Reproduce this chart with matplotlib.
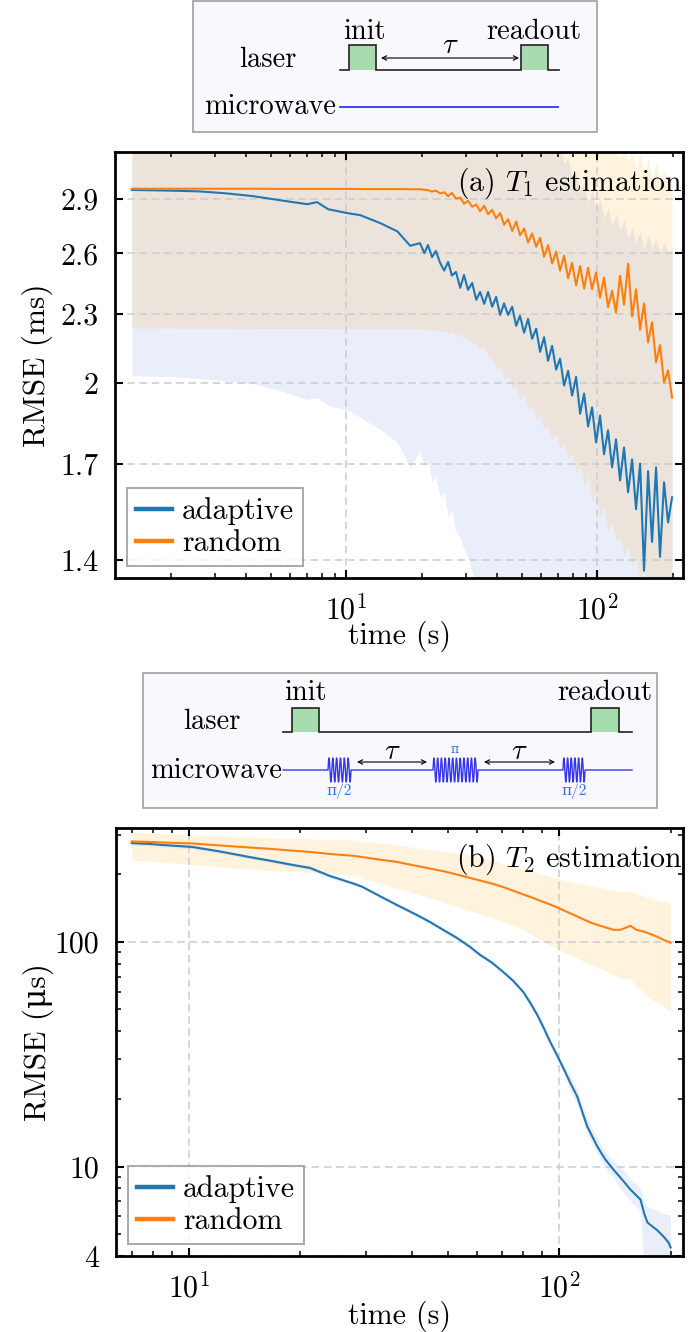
import numpy as np
import matplotlib
matplotlib.use("Agg")
import matplotlib.pyplot as plt
from matplotlib.patches import Rectangle
from matplotlib.ticker import FixedLocator, NullLocator, FixedFormatter, LogLocator

FS = 21.5
plt.rcParams.update({
    'font.family': ['cmr10', 'DejaVu Serif'],
    'mathtext.fontset': 'cm',
    'axes.unicode_minus': False,
    'axes.formatter.use_mathtext': True,
    'font.size': FS,
})

# ---------------- data: panel (a) T1 ----------------
t_a = [1.4, 1.65, 2.08, 2.62, 3.30, 4.26, 5.46, 7.0, 7.66, 8.48, 10.2, 11.4, 13.7, 16.0, 18.0,
       19.7, 20.5, 21.2, 22.0, 22.8, 23.7, 24.6, 25.5, 26.4, 27.4, 28.5, 29.5, 30.6, 31.8, 33.0,
       34.2, 35.5, 36.8, 38.2, 39.6, 41.1, 42.6, 44.2, 45.9, 47.6, 49.3, 51.2, 53.1, 55.1, 57.2,
       59.3, 61.5, 63.8, 66.2, 68.7, 71.2, 73.9, 76.7, 79.5, 82.5, 85.6, 88.8, 92.1, 95.5, 99.1,
       102.8, 106.6, 110.6, 114.8, 119.0, 123.5, 128.1, 132.9, 137.9, 143.0, 148.4, 153.9, 159.7,
       165.6, 171.8, 178.2, 184.9, 191.8, 199.0]

adaptive_a = [2.955, 2.953, 2.950, 2.946, 2.935, 2.918, 2.894, 2.871, 2.883, 2.842, 2.819, 2.808,
              2.763, 2.718, 2.640,
              2.654, 2.601, 2.644, 2.580, 2.612, 2.550, 2.511, 2.555, 2.486, 2.504,
              2.425, 2.489, 2.415, 2.449, 2.367, 2.405, 2.348, 2.405, 2.334, 2.381,
              2.296, 2.350, 2.296, 2.334, 2.246, 2.292, 2.215, 2.278, 2.188, 2.233,
              2.131, 2.195, 2.093, 2.157, 2.056, 2.102, 1.991, 2.051, 1.951, 2.026,
              1.881, 1.959, 1.833, 1.905, 1.775, 1.874, 1.733, 1.819, 1.688, 1.786,
              1.644, 1.757, 1.605, 1.715, 1.551, 1.701, 1.370, 1.675, 1.452, 1.688,
              1.409, 1.638, 1.510, 1.589]
adaptive_a_lo = [2.031, 2.029, 2.027, 2.019, 2.010, 1.998, 1.971, 1.935, 1.943, 1.912, 1.893, 1.866,
                 1.822, 1.775, 1.688,
                 1.747, 1.688, 1.715, 1.638, 1.661, 1.589, 1.605, 1.526, 1.551, 1.482, 1.466, 1.431,
                 1.409, 1.367,
                 1.32, 1.30, 1.27, 1.25, 1.22, 1.20, 1.18, 1.15, 1.13, 1.10,
                 1.08, 1.06, 1.04, 1.02, 1.00, 0.98, 0.96, 0.95, 0.93, 0.92,
                 0.90, 0.89, 0.88, 0.86, 0.85, 0.84, 0.83, 0.82, 0.81, 0.80,
                 0.79, 0.78, 0.77, 0.76, 0.75, 0.74, 0.73, 0.72, 0.71, 0.70,
                 0.69, 0.68, 0.67, 0.66, 0.65, 0.64, 0.63, 0.62, 0.61, 0.60]
adaptive_a_hi = [3.90, 3.90, 3.89, 3.88, 3.87, 3.85, 3.83, 3.80, 3.81, 3.77, 3.74, 3.72, 3.66, 3.60, 3.55,
                 3.56, 3.52, 3.54, 3.49, 3.51, 3.47, 3.44, 3.46, 3.42, 3.43,
                 3.40, 3.41, 3.38, 3.39, 3.36, 3.37, 3.35, 3.36, 3.34, 3.35,
                 3.33, 3.34, 3.32, 3.33, 3.31, 3.32, 3.30, 3.31, 3.29, 3.30,
                 3.28, 3.29, 3.27, 3.26, 3.25,
                 3.22, 3.12, 3.15, 3.02, 3.06, 2.95, 3.00, 2.88, 2.95, 2.84,
                 2.90, 2.79, 2.85, 2.75, 2.82, 2.72, 2.78, 2.68, 2.74, 2.65,
                 2.72, 2.62, 2.70, 2.63, 2.68, 2.60, 2.66, 2.61, 2.62]

random_a = [2.962, 2.962, 2.962, 2.962, 2.962, 2.962, 2.961, 2.961, 2.961, 2.961, 2.961, 2.960,
            2.960, 2.960, 2.959,
            2.959, 2.956, 2.953, 2.945, 2.951, 2.934, 2.941, 2.918, 2.937, 2.903,
            2.909, 2.874, 2.891, 2.856, 2.869, 2.831, 2.862, 2.814, 2.838, 2.790,
            2.820, 2.755, 2.785, 2.720, 2.772, 2.696, 2.734, 2.657, 2.706, 2.635,
            2.683, 2.582, 2.643, 2.547, 2.609, 2.511, 2.588, 2.472, 2.550, 2.437,
            2.534, 2.422, 2.525, 2.419, 2.501, 2.377, 2.476, 2.332, 2.410, 2.306,
            2.484, 2.344, 2.546, 2.288, 2.418, 2.228, 2.350, 2.172, 2.262, 2.087,
            2.160, 2.002, 2.053, 1.943]
random_a_lo = [2.236, 2.236, 2.235, 2.235, 2.235, 2.234, 2.234, 2.234, 2.234, 2.234, 2.233, 2.233,
               2.233, 2.233, 2.233,
               2.233, 2.228, 2.233, 2.224, 2.228, 2.220, 2.224, 2.210, 2.220, 2.202,
               2.210, 2.193, 2.184, 2.171, 2.166, 2.144, 2.149, 2.114, 2.106, 2.058,
               2.066, 2.015, 2.031, 1.975, 1.990, 1.935, 1.958, 1.897, 1.912, 1.859,
               1.874, 1.822, 1.837, 1.786, 1.808, 1.757, 1.775, 1.715, 1.740, 1.671,
               1.695, 1.621, 1.661, 1.573, 1.605, 1.526, 1.564, 1.482, 1.510, 1.452,
               1.466, 1.409, 1.443, 1.381, 1.406, 1.353, 1.367,
               1.30, 1.32, 1.28, 1.30, 1.26, 1.28, 1.25]
random_a_hi = [3.70, 3.70, 3.70, 3.70, 3.70, 3.70, 3.70, 3.69, 3.69, 3.69, 3.69, 3.69, 3.68, 3.68, 3.68,
               3.68, 3.67, 3.68, 3.66, 3.67, 3.65, 3.66, 3.64, 3.65, 3.63,
               3.64, 3.62, 3.63, 3.61, 3.62, 3.60, 3.61, 3.59, 3.60, 3.58,
               3.59, 3.57, 3.58, 3.56, 3.57, 3.55, 3.56, 3.54, 3.55, 3.53,
               3.54, 3.52, 3.53, 3.51, 3.52, 3.50, 3.51, 3.49, 3.50, 3.48,
               3.49, 3.46, 3.47, 3.44, 3.42,
               3.30, 3.22, 3.32, 3.18, 3.28, 3.15, 3.26, 3.12, 3.22, 3.08,
               3.20, 3.05, 3.15, 3.02, 3.12, 3.00, 3.08, 2.98, 3.02]

yticks_a = [1.4, 1.7, 2.0, 2.3, 2.6, 2.9]
yticklabels_a = ['1.4', '1.7', '2', '2.3', '2.6', '2.9']

# ---------------- data: panel (b) T2 ----------------
t_b = [7.0, 7.79, 8.83, 10.2, 12.1, 14.5, 16.7, 18.7, 21.2, 24.0,
       28.0, 29.4, 32.7, 36.4, 40.7, 44.7, 49.1, 52.9, 57.4, 61.1,
       65.9, 70.5, 75.1, 79.9, 83.5, 87.2, 90.5, 94.5, 98.2, 102.5,
       107.1, 111.9, 115.4, 119.1, 122.9, 126.8, 133.3, 140.1, 146.3, 155.8,
       161.7, 165.8, 170.0, 173.2, 178.6, 184.4, 191.3, 197.4, 200.0]
adaptive_b = [275.0, 272.6, 268.5, 264.4, 252.5, 238.7, 229.1, 221.1, 213.3, 196.5,
              181.0, 175.6, 160.1, 146.0, 133.2, 122.7, 111.9, 104.2, 95.0, 87.56,
              80.66, 73.56, 67.08, 59.95, 53.57, 47.37, 41.90, 35.94, 31.78, 27.54,
              23.61, 20.47, 17.55, 15.06, 13.59, 12.27, 10.74, 9.70, 8.935, 7.90,
              7.43, 7.135, 6.116, 5.638, 5.412, 5.194, 4.885, 4.596, 4.365]
adaptive_b_hi = [280.5, 278.1, 273.9, 269.7, 257.6, 243.5, 233.7, 225.5, 217.6, 200.4,
                 184.6, 179.1, 163.3, 148.9, 135.9, 125.2, 114.1, 106.3, 96.9, 89.3,
                 82.3, 75.0, 68.4, 61.1, 55.7, 49.3, 43.6, 37.4, 33.1, 28.6,
                 25.5, 22.1, 19.0, 16.3, 14.7, 13.3, 11.6, 10.5, 10.0, 8.85,
                 8.32, 7.99, 6.9, 6.64, 6.5, 6.35, 6.15, 6.12, 6.10]
adaptive_b_lo = [269.6, 267.3, 263.2, 259.2, 247.5, 234.0, 224.6, 216.8, 209.1, 192.6,
                 177.5, 172.2, 157.0, 143.1, 130.6, 120.3, 109.7, 102.2, 93.1, 85.8,
                 79.1, 72.1, 65.8, 58.8, 51.5, 45.5, 40.3, 34.6, 30.6, 26.5,
                 21.9, 19.0, 16.3, 13.9, 12.6, 11.4, 9.94, 8.98, 7.98, 7.05,
                 6.63, 6.37, 3.0, 2.9, 2.8, 2.7, 2.6, 2.5, 2.4]
random_b = [279.7, 278.3, 276.0, 274.0, 268.5, 263.0, 259.0, 255.1, 251.2, 246.0,
            241.1, 238.2, 232.2, 226.8, 218.6, 212.0, 205.5, 199.3, 192.5, 187.5,
            181.6, 175.3, 168.9, 162.6, 158.5, 154.2, 150.6, 146.6, 143.0, 138.3,
            134.0, 129.7, 126.6, 123.7, 121.0, 119.0, 116.0, 113.1, 113.1, 117.8,
            113.1, 111.9, 110.8, 109.6, 107.4, 105.2, 102.1, 100.0, 99.0]
random_b_hi = [308.2, 305.1, 302.0, 298.9, 295.9, 292.9, 290.0, 288.4, 286.9, 285.4,
               284.1, 281.2, 275.4, 269.9, 263.0, 257.7, 252.5, 248.6, 243.6, 237.5,
               230.2, 223.3, 217.7, 211.1, 206.8, 202.6, 199.5, 195.5, 192.5, 188.6,
               185.8, 182.9, 181.0, 179.2, 176.5, 174.7, 172.0, 168.6, 166.8, 168.6,
               164.3, 161.8, 159.4, 157.7, 155.3, 153.7, 151.4, 149.8, 149.0]
random_b_lo = [231.4, 228.4, 224.7, 220.6, 215.7, 210.6, 206.8, 205.5, 204.0, 202.6,
               196.5, 191.9, 182.3, 173.3, 164.1, 156.9, 149.2, 143.4, 137.3, 132.8,
               127.6, 123.1, 119.0, 112.6, 108.3, 104.2, 100.8, 97.0, 93.8, 90.29,
               87.35, 84.54, 82.59, 80.66, 78.78, 76.95, 74.09, 71.35, 69.18, 68.47,
               63.73, 61.16, 58.72, 56.94, 55.26, 53.57, 51.42, 49.86, 48.85]

yticks_b = [4, 10, 100]
yticklabels_b = ['4', '10', '100']

series_labels = ['adaptive', 'random']

# ---------------- styling ----------------
C_ADAPT = '#1f77b4'
C_RAND = '#ff7f0e'
BAND_ADAPT = 'royalblue'
BAND_RAND = '#ffa500'
W, H = 689, 1332
fig = plt.figure(figsize=(W / 100, H / 100), dpi=100)


def fig_rect(x0, y0, x1, y1):
    return [x0 / W, 1 - y1 / H, (x1 - x0) / W, (y1 - y0) / H]


def style_axes(ax):
    for s in ax.spines.values():
        s.set_linewidth(2.0)
        s.set_color('black')
    ax.tick_params(which='both', direction='in', top=True, right=True, labelsize=FS)
    ax.tick_params(which='major', length=6, width=1.5, pad=12)
    ax.tick_params(which='minor', length=3.5, width=1.1)
    ax.grid(True, which='major', color='#cccccc', linestyle=(0, (5, 3)), linewidth=1.1)


def add_legend(ax):
    leg = ax.legend(loc='lower left', frameon=True, fancybox=False, edgecolor='0.55',
                    framealpha=0.8, handlelength=1.2, handletextpad=0.35, borderpad=0.3,
                    labelspacing=0.15, borderaxespad=0.4, fontsize=FS)
    leg.get_frame().set_linewidth(1.3)
    for ln in leg.get_lines():
        ln.set_linewidth(3.2)
    return leg


# ---------------- panel (a) ----------------
axa = fig.add_axes(fig_rect(115, 152, 683, 578))
axa.fill_between(t_a, adaptive_a_lo, adaptive_a_hi, color=BAND_ADAPT, alpha=0.11, lw=0)
axa.fill_between(t_a, random_a_lo, random_a_hi, color=BAND_RAND, alpha=0.13, lw=0)
axa.plot(t_a, adaptive_a, color=C_ADAPT, lw=1.5, label=series_labels[0])
axa.plot(t_a, random_a, color=C_RAND, lw=1.5, label=series_labels[1])
axa.set_xscale('log')
axa.set_yscale('log')
axa.set_xlim(1.2, 220)
axa.set_ylim(1.35, 3.19)
axa.yaxis.set_major_locator(FixedLocator(yticks_a))
axa.yaxis.set_major_formatter(FixedFormatter(yticklabels_a))
axa.yaxis.set_minor_locator(NullLocator())
style_axes(axa)
axa.set_xlabel('time (s)', fontsize=FS)
axa.set_ylabel('RMSE (ms)', fontsize=FS + 1)
axa.xaxis.set_label_coords(0.5, -0.10)
axa.yaxis.set_label_coords(-0.11, 0.5)
axa.text(0.999, 0.968, r'(a) $T_1$ estimation', transform=axa.transAxes,
         ha='right', va='top', fontsize=FS)
add_legend(axa)

# ---------------- panel (b) ----------------
axb = fig.add_axes(fig_rect(116, 828, 683, 1256))
axb.fill_between(t_b, adaptive_b_lo, adaptive_b_hi, color=BAND_ADAPT, alpha=0.11, lw=0)
axb.fill_between(t_b, random_b_lo, random_b_hi, color=BAND_RAND, alpha=0.13, lw=0)
axb.plot(t_b, adaptive_b, color=C_ADAPT, lw=1.5, label=series_labels[0])
axb.plot(t_b, random_b, color=C_RAND, lw=1.5, label=series_labels[1])
axb.set_xscale('log')
axb.set_yscale('log')
axb.set_xlim(6.35, 216)
axb.set_ylim(4.0, 321)
axb.yaxis.set_major_locator(FixedLocator(yticks_b))
axb.yaxis.set_major_formatter(FixedFormatter(yticklabels_b))
axb.yaxis.set_minor_locator(LogLocator(base=10, subs=np.arange(2, 10), numticks=20))
style_axes(axb)
axb.set_xlabel('time (s)', fontsize=FS)
axb.set_ylabel('RMSE (μs)', fontsize=FS + 1)
axb.xaxis.set_label_coords(0.5, -0.105)
axb.yaxis.set_label_coords(-0.11, 0.5)
axb.text(0.999, 0.968, r'(b) $T_2$ estimation', transform=axb.transAxes,
         ha='right', va='top', fontsize=FS)
add_legend(axb)

# ---------------- schematic boxes ----------------
GREEN = '#a6dcae'
MW = '#3535ee'
MW_LABEL = '#3a6fd8'
BFS = 20.5


def make_box(x0, y0, x1, y1):
    ax = fig.add_axes(fig_rect(x0, y0, x1, y1))
    w, h = x1 - x0, y1 - y0
    ax.set_xlim(0, w)
    ax.set_ylim(h, 0)
    ax.axis('off')
    ax.add_patch(Rectangle((0, 0), 1, 1, transform=ax.transAxes, facecolor='#f8f8fd',
                           edgecolor='#a0a0a0', lw=1.2, clip_on=False, zorder=0))
    return ax


def laser_line(ax, xs, xe, y, pulses, top):
    px = [xs]
    py = [y]
    for (a, b) in pulses:
        px += [a, a, b, b]
        py += [y, top, top, y]
        ax.add_patch(Rectangle((a, top), b - a, y - top, facecolor=GREEN, edgecolor='none', zorder=1))
    px.append(xe)
    py.append(y)
    ax.plot(px, py, color='#222222', lw=1.2, zorder=2, solid_joinstyle='miter')


def tau_arrow(ax, xa, xb, y, ylab):
    ax.annotate('', xy=(xa, y), xytext=(xb, y),
                arrowprops=dict(arrowstyle='<->', lw=0.8, color='black', mutation_scale=8,
                                shrinkA=0, shrinkB=0))
    ax.text((xa + xb) / 2, ylab, r'$\tau$', ha='center', va='center', fontsize=BFS)


# box 1: T1 sequence
b1 = make_box(193, 1, 597, 132)
b1.text(75, 59, 'laser', ha='center', va='center', fontsize=BFS)
b1.text(77, 106, 'microwave', ha='center', va='center', fontsize=BFS)
laser_line(b1, 147, 366, 69, [(156, 183), (328, 355)], 44)
b1.text(171, 31, 'init', ha='center', va='center', fontsize=BFS)
b1.text(341, 31, 'readout', ha='center', va='center', fontsize=BFS)
tau_arrow(b1, 188, 326, 57, 45)
b1.plot([147, 365], [106, 106], color=MW, lw=1.3)

# box 2: T2 (Hahn echo) sequence
b2 = make_box(143, 673, 657, 808)
b2.text(69, 49, 'laser', ha='center', va='center', fontsize=BFS)
b2.text(73, 98, 'microwave', ha='center', va='center', fontsize=BFS)
laser_line(b2, 140, 489, 59, [(149, 176), (448, 476)], 35)
b2.text(162, 20, 'init', ha='center', va='center', fontsize=BFS)
b2.text(462, 20, 'readout', ha='center', va='center', fontsize=BFS)
mw_pulses = [(185, 208, 6), (290, 335, 12), (420, 442, 6)]
y_mw = 97
segs_x = [140]
segs_y = [y_mw]
for (a, b, n) in mw_pulses:
    xx = np.linspace(a, b, 240)
    yy = y_mw - 12 * np.sin(2 * np.pi * n * (xx - a) / (b - a))
    segs_x += list(xx)
    segs_y += list(yy)
segs_x.append(489)
segs_y.append(y_mw)
b2.plot(segs_x, segs_y, color=MW, lw=1.0)
b2.text(196, 118, 'π/2', ha='center', va='center', fontsize=11, color=MW_LABEL)
b2.text(431, 118, 'π/2', ha='center', va='center', fontsize=11, color=MW_LABEL)
b2.text(312, 77, 'π', ha='center', va='center', fontsize=9, color=MW_LABEL)
tau_arrow(b2, 214, 284, 89, 79)
tau_arrow(b2, 341, 412, 89, 79)

fig.savefig('out.png', dpi=100)
